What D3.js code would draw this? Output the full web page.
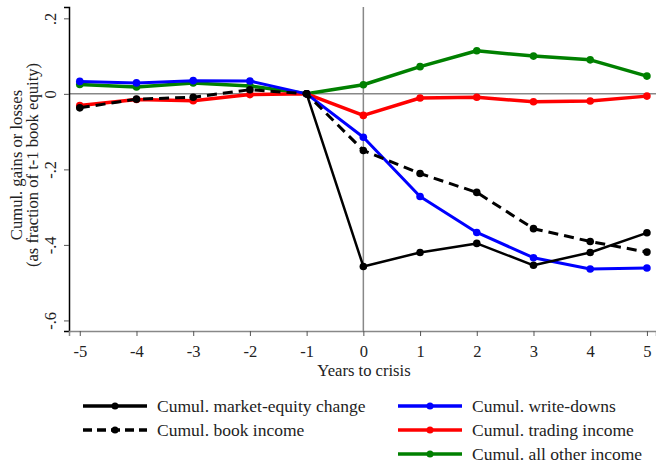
<!DOCTYPE html>
<html>
<head>
<meta charset="utf-8">
<script src="https://cdn.jsdelivr.net/npm/d3@7"></script>
<style>
  body { margin: 0; background: #fff; }
  text { font-family: "Liberation Serif", "Times New Roman", serif; }
</style>
</head>
<body>
<div id="container"></div>
<script>
// data
const years = [-5, -4, -3, -2, -1, 0, 1, 2, 3, 4, 5];
const marketEquity = [null, null, null, null, 0, -0.457, -0.420, -0.396, -0.454, -0.420, -0.368];
const bookIncome = [-0.037, -0.014, -0.009, 0.011, 0, -0.150, -0.211, -0.261, -0.357, -0.391, -0.419];
const writeDowns = [0.033, 0.029, 0.035, 0.034, 0, -0.115, -0.272, -0.367, -0.434, -0.464, -0.461];
const tradingIncome = [-0.031, -0.015, -0.018, -0.002, 0, -0.057, -0.011, -0.009, -0.021, -0.019, -0.006];
const otherIncome = [0.025, 0.018, 0.029, 0.021, 0, 0.024, 0.072, 0.114, 0.100, 0.090, 0.047];
const yTicks = [0.2, 0, -0.2, -0.4, -0.6];
const yTickLabels = [".2", "0", "-.2", "-.4", "-.6"];

const W = 656, H = 462;
const margin = {top: 7, right: 0, bottom: 131, left: 69};
const width = W - margin.left - margin.right,
  height = H - margin.top - margin.bottom;

const svg = d3.select("#container")
  .append("svg")
    .attr("width", W)
    .attr("height", H);
const g = svg.append("g")
  .attr("transform", `translate(${margin.left},${margin.top})`);

const x = d3.scaleLinear().domain([-5.19, 5.16]).range([0, width]);
const y = d3.scaleLinear().domain([-0.628, 0.23]).range([height, 0]);

// reference lines at 0
g.append("line")
  .attr("x1", 0).attr("x2", width)
  .attr("y1", y(0)).attr("y2", y(0))
  .attr("stroke", "#888").attr("stroke-width", 1.5);
g.append("line")
  .attr("x1", x(0)).attr("x2", x(0))
  .attr("y1", 0).attr("y2", height)
  .attr("stroke", "#888").attr("stroke-width", 1.5);

// y axis
const yAxis = g.append("g")
  .call(d3.axisLeft(y).tickValues(yTicks).tickSize(5).tickFormat((d, i) => yTickLabels[i]));
yAxis.select(".domain").attr("stroke", "#000").attr("stroke-width", 1.5);
yAxis.selectAll(".tick line").attr("stroke", "#555");
yAxis.selectAll(".tick text")
  .attr("transform", "rotate(-90)")
  .attr("x", 0).attr("y", -13)
  .attr("dy", 0)
  .style("text-anchor", "middle")
  .style("font-size", "16.5px")
  .attr("fill", "#222");

// x axis (plain hyphen for negatives, as in the original)
const xAxis = g.append("g")
  .attr("transform", `translate(0,${height})`)
  .call(d3.axisBottom(x).tickValues(years).tickSize(5).tickFormat(d => String(d)));
xAxis.select(".domain").attr("stroke", "#888").attr("stroke-width", 1.5);
xAxis.selectAll(".tick line").attr("stroke", "#555");
xAxis.selectAll(".tick text")
  .attr("y", 14)
  .style("font-size", "16.5px")
  .attr("fill", "#222");

// axis titles
svg.append("text")
  .attr("x", 364).attr("y", 376)
  .attr("text-anchor", "middle")
  .style("font-size", "16.6px")
  .attr("fill", "#222")
  .text("Years to crisis");

const yTitle = svg.append("text")
  .attr("transform", "translate(22,165) rotate(-90)")
  .attr("text-anchor", "middle")
  .style("font-size", "16.6px")
  .attr("fill", "#222");
yTitle.append("tspan").attr("x", 0).attr("y", 0).text("Cumul. gains or losses");
yTitle.append("tspan").attr("x", 0).attr("y", 16).text("(as fraction of t-1 book equity)");

// series
const series = [
  {name: "Cumul. all other income", values: otherIncome, color: "#008000", width: 3.5, dash: null},
  {name: "Cumul. trading income", values: tradingIncome, color: "#ff0000", width: 3.5, dash: null},
  {name: "Cumul. write-downs", values: writeDowns, color: "#0000ff", width: 3, dash: null},
  {name: "Cumul. book income", values: bookIncome, color: "#000", width: 3, dash: "10,6"},
  {name: "Cumul. market-equity change", values: marketEquity, color: "#000", width: 2.5, dash: null}
];

const line = d3.line()
  .defined(d => d[1] !== null)
  .x(d => x(d[0]))
  .y(d => y(d[1]));

series.forEach(s => {
  const pts = years.map((yr, i) => [yr, s.values[i]]);
  g.append("path")
    .datum(pts)
    .attr("d", line)
    .attr("fill", "none")
    .attr("stroke", s.color)
    .attr("stroke-width", s.width)
    .attr("stroke-dasharray", s.dash)
    .attr("stroke-linejoin", "round");
  g.selectAll(null)
    .data(pts.filter(d => d[1] !== null))
    .join("circle")
      .attr("cx", d => x(d[0]))
      .attr("cy", d => y(d[1]))
      .attr("r", 3.8)
      .attr("fill", s.color);
});

// legend
const legendItems = [
  {s: series[4], col: 0, row: 0},
  {s: series[3], col: 0, row: 1},
  {s: series[2], col: 1, row: 0},
  {s: series[1], col: 1, row: 1},
  {s: series[0], col: 1, row: 2}
];
const colX = [83, 398], rowY = [406, 430, 454];
legendItems.forEach(it => {
  const lx = colX[it.col], ly = rowY[it.row];
  svg.append("line")
    .attr("x1", lx).attr("x2", lx + 64)
    .attr("y1", ly).attr("y2", ly)
    .attr("stroke", it.s.color)
    .attr("stroke-width", 3.5)
    .attr("stroke-dasharray", it.s.dash ? "9,5" : null);
  svg.append("circle")
    .attr("cx", lx + 32).attr("cy", ly).attr("r", 3.5)
    .attr("fill", it.s.color);
  svg.append("text")
    .attr("x", lx + 74).attr("y", ly + 5.5)
    .style("font-size", "17.5px")
    .attr("fill", "#222")
    .text(it.s.name);
});
</script>
</body>
</html>
